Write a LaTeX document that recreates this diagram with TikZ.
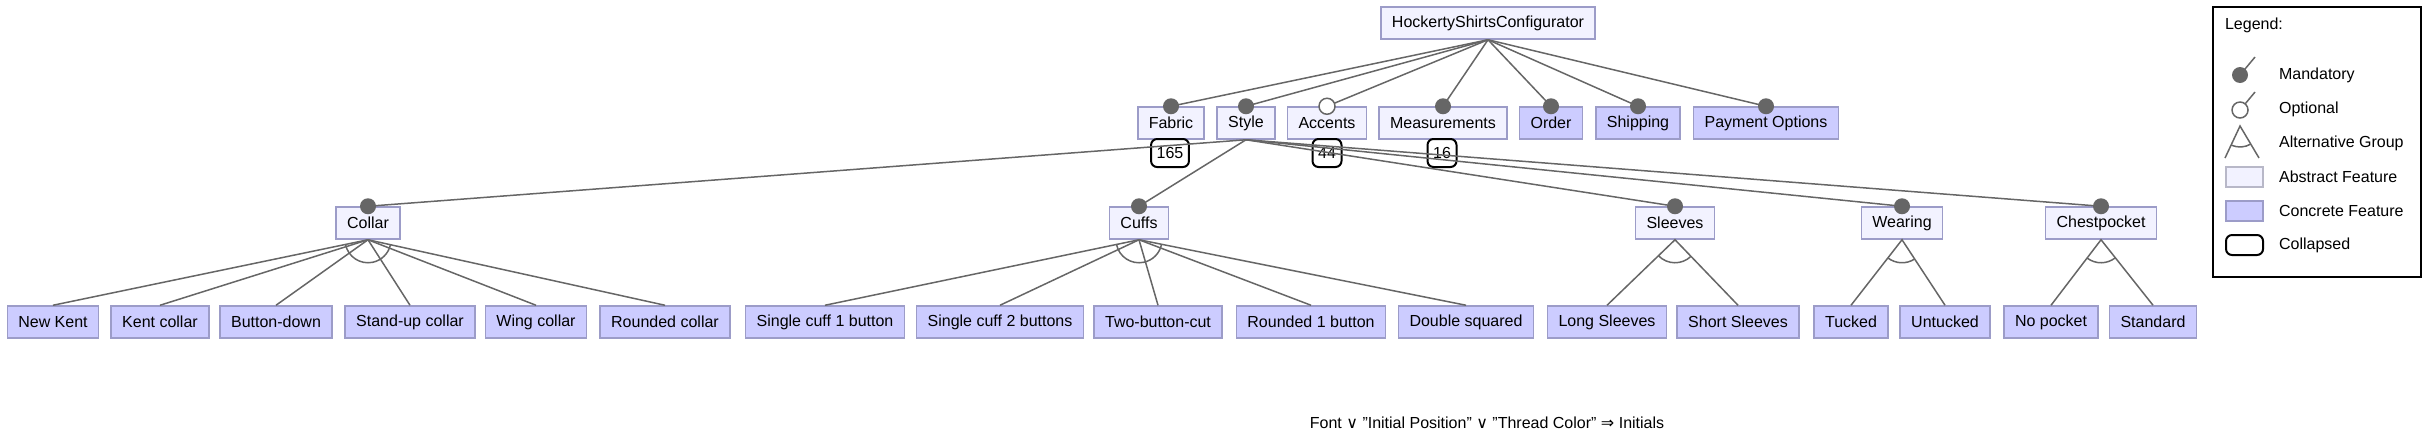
\documentclass[tikz,border=0pt]{standalone}
\usepackage{fontspec}
\setmainfont{Liberation Sans}
\newfontfamily\symfont{DejaVu Sans}
\usepackage{tikz}
\usetikzlibrary{calc}
\definecolor{absfill}{HTML}{F2F2FF}
\definecolor{concfill}{HTML}{CCCCFF}
\definecolor{featline}{HTML}{9C9CC8}
\definecolor{legline}{HTML}{B8B8C8}
\definecolor{edgegray}{HTML}{666666}
% arc of an alternative group: parent, first child, last child
\newcommand{\altarc}[3]{%
  \draw[edge] let \p1=($(#2.north)-(#1.south)$), \p2=($(#3.north)-(#1.south)$),
    \n1={atan2(\y1,\x1)}, \n2={atan2(\y2,\x2)} in
    ($(#1.south)+(\n1:11.5pt)$) arc[start angle=\n1, end angle=\n2, radius=11.5pt];}

\begin{document}
\begin{tikzpicture}[x=0.5pt, y=-0.5pt,
  every node/.style={font=\fontsize{8}{9.6}\selectfont},
  absfeat/.style={draw=featline, fill=absfill, line width=0.75pt, inner xsep=5.5pt, inner ysep=0pt, minimum height=16pt},
  concfeat/.style={absfeat, fill=concfill},
  collapsed/.style={draw=black, line width=1pt, rounded corners=3pt, inner xsep=2.8pt, inner ysep=0pt, minimum height=14pt},
  edge/.style={draw=edgegray, line width=0.75pt},
  mand/.style={fill=edgegray},
  opt/.style={draw=edgegray, fill=white, line width=0.75pt},
]
  \useasboundingbox (0,0) rectangle (2428,436);

  % Root
  \node[absfeat] (root) at (1488,23) {HockertyShirtsConfigurator};

  % Level 1
  \node[absfeat] (fabric) at (1171,123) {Fabric};
  \node[absfeat] (style) at (1246,123) {Style};
  \node[absfeat] (accents) at (1327,123) {Accents};
  \node[absfeat] (measure) at (1443,123) {Measurements};
  \node[concfeat] (order) at (1551,123) {Order};
  \node[concfeat] (shipping) at (1638,123) {Shipping};
  \node[concfeat] (payment) at (1766,123) {Payment Options};

  \node[collapsed] (cfabric) at (1170,153) {165};
  \node[collapsed] (caccents) at (1327,153) {44};
  \node[collapsed] (cmeasure) at (1442,153) {16};

  % Level 2
  \node[absfeat] (collar) at (368,223) {Collar};
  \node[absfeat] (cuffs) at (1139,223) {Cuffs};
  \node[absfeat] (sleeves) at (1675,223) {Sleeves};
  \node[absfeat] (wearing) at (1902,223) {Wearing};
  \node[absfeat] (chest) at (2101,223) {Chestpocket};

  % Level 3
  \node[concfeat] (newkent) at (53,322) {New Kent};
  \node[concfeat] (kent) at (160,322) {Kent collar};
  \node[concfeat] (buttondown) at (276,322) {Button-down};
  \node[concfeat] (standup) at (410,322) {Stand-up collar};
  \node[concfeat] (wing) at (536,322) {Wing collar};
  \node[concfeat] (rounded) at (665,322) {Rounded collar};
  \node[concfeat] (single1) at (825,322) {Single cuff 1 button};
  \node[concfeat] (single2) at (1000,322) {Single cuff 2 buttons};
  \node[concfeat] (twobutton) at (1158,322) {Two-button-cut};
  \node[concfeat] (rounded1) at (1311,322) {Rounded 1 button};
  \node[concfeat] (doublesq) at (1466,322) {Double squared};
  \node[concfeat] (longsl) at (1607,322) {Long Sleeves};
  \node[concfeat] (shortsl) at (1738,322) {Short Sleeves};
  \node[concfeat] (tucked) at (1851,322) {Tucked};
  \node[concfeat] (untucked) at (1945,322) {Untucked};
  \node[concfeat] (nopocket) at (2051,322) {No pocket};
  \node[concfeat] (standard) at (2153,322) {Standard};

  % Edges
  \foreach \c in {fabric,style,accents,measure,order,shipping,payment}
    \draw[edge] (root.south) -- (\c.north);
  \foreach \c in {collar,cuffs,sleeves,wearing,chest}
    \draw[edge] (style.south) -- (\c.north);
  \foreach \c in {newkent,kent,buttondown,standup,wing,rounded}
    \draw[edge] (collar.south) -- (\c.north);
  \foreach \c in {single1,single2,twobutton,rounded1,doublesq}
    \draw[edge] (cuffs.south) -- (\c.north);
  \draw[edge] (longsl.north) -- (sleeves.south) -- (shortsl.north);
  \draw[edge] (tucked.north) -- (wearing.south) -- (untucked.north);
  \draw[edge] (nopocket.north) -- (chest.south) -- (standard.north);

  % Alternative groups
  \altarc{collar}{newkent}{rounded}
  \altarc{cuffs}{single1}{doublesq}
  \altarc{sleeves}{longsl}{shortsl}
  \altarc{wearing}{tucked}{untucked}
  \altarc{chest}{nopocket}{standard}

  % Mandatory / optional
  \foreach \c in {fabric,style,measure,order,shipping,payment,collar,cuffs,sleeves,wearing,chest}
    \fill[mand] (\c.north) circle (4pt);
  \draw[opt] (accents.north) circle (4pt);

  % Constraint
  \node (constraint) at (1487,423) {Font {\symfont ∨} "Initial Position" {\symfont ∨} "Thread Color" {\symfont ⇒} Initials};

  % Legend
  \draw[line width=1pt] (2213,7) rectangle (2421,277);
  \node[anchor=west] (legtitle) at (2218,25) {Legend:};
  \draw[edge] (2240,75) -- (2255,57);
  \fill[mand] (2240,75) circle (4pt);
  \node[anchor=west] (legmand) at (2272,75) {Mandatory};
  \draw[edge] (2240,110) -- (2255,92);
  \draw[opt] (2240,110) circle (4pt);
  \node[anchor=west] (legopt) at (2272,109) {Optional};
  \draw[edge] (2225,158) -- (2240,126) -- (2259,158);
  \draw[edge] (2240,126) ++(-115:10.5pt) arc[start angle=-115, end angle=-59, radius=10.5pt];
  \node[anchor=west] (legalt) at (2272,143) {Alternative Group};
  \draw[draw=legline, fill=absfill, line width=0.75pt] (2226,167) rectangle (2263,187);
  \node[anchor=west] (legabs) at (2272,177) {Abstract Feature};
  \draw[draw=featline, fill=concfill, line width=0.75pt] (2226,201) rectangle (2263,221);
  \node[anchor=west] (legconc) at (2272,211) {Concrete Feature};
  \draw[line width=1pt, rounded corners=3pt] (2226,235) rectangle (2263,255);
  \node[anchor=west] (legcoll) at (2272,245) {Collapsed};
\end{tikzpicture}
\end{document}
